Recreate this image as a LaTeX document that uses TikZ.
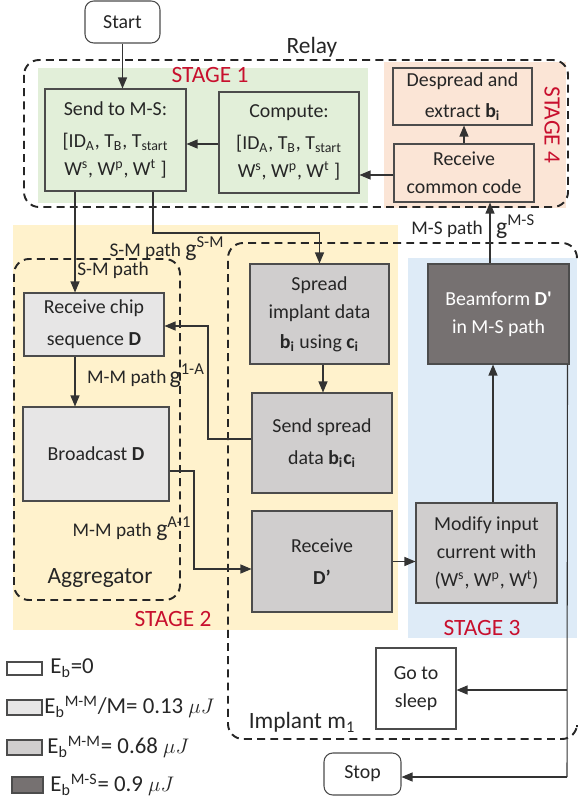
\documentclass[tikz,border=0pt]{standalone}
\usepackage{fontspec}
\setmainfont{Carlito}
\usetikzlibrary{arrows.meta}

\definecolor{stgreen}{HTML}{E2EFD9}
\definecolor{stpeach}{HTML}{FBE5D6}
\definecolor{styellow}{HTML}{FFF2CC}
\definecolor{stblue}{HTML}{DEEBF7}
\definecolor{lightgr}{HTML}{E7E6E6}
\definecolor{midgr}{HTML}{D0CECE}
\definecolor{darkgr}{HTML}{767171}
\definecolor{stagered}{HTML}{C8102E}

\newcommand{\bodyfont}{\fontsize{11.3}{16}\selectfont}
\newcommand{\stagefont}{\fontsize{13.3}{16}\selectfont}
\newcommand{\pathfont}{\fontsize{11}{13}\selectfont}
\newcommand{\gpath}[1]{{\fontsize{13.5}{16}\selectfont g\textsuperscript{#1}}}

\tikzset{
  blk/.style={draw=black!70, line width=0.6pt, align=center, inner sep=0pt, text=black!85},
  term/.style={blk, rounded corners=5pt, fill=white},
  grp/.style={draw=black!85, line width=1.1pt, dash pattern=on 4.5pt off 3pt, rounded corners=0.3cm},
  grplabel/.style={font=\stagefont, text=black!85},
  stage/.style={font=\stagefont, text=stagered},
  conn/.style={draw=black!80, line width=0.6pt},
  arr/.style={conn, -{Triangle[length=2.2mm, width=1.8mm]}},
  pathlbl/.style={font=\pathfont, text=black!85, inner sep=1pt},
  lgbox/.style={draw=black!70, line width=0.6pt, inner sep=0pt},
  lgtext/.style={font=\fontsize{13}{15}\selectfont, text=black!85, anchor=west, inner sep=0pt}
}

\begin{document}
\begin{tikzpicture}[x=0.02cm, y=-0.02cm, font=\bodyfont]
\useasboundingbox (0,0) rectangle (581,804);

% stage areas
\fill[stgreen] (38,68) rectangle (368,203);
\fill[stpeach] (384,62) rectangle (566,208);
\fill[styellow] (13,225) rectangle (398,630);
\fill[stblue] (408,258) rectangle (577,638);

% dashed groups
\draw[grp] (24,60) rectangle (568,207);
\draw[grp] (14,259) rectangle (180,600);
\draw[grp] (577,258) -- (577,243) -- (228,243) -- (228,739) -- (577,739) -- (577,727);

\node[grplabel] (relay) at (312,47) {Relay};
\node[grplabel] (aggr) at (100,578) {Aggregator};
\node[grplabel] (implant) at (302,722) {Implant m\textsubscript{1}};

\node[stage] (stA) at (210,75) {STAGE 1};
\node[stage] (stB) at (173,619) {STAGE 2};
\node[stage] (stC) at (482,628) {STAGE 3};
\node[stage, rotate=-90] (stD) at (552,125) {STAGE 4};

% relay
\node[term, minimum width=1.5cm, minimum height=0.84cm] (start) at (122.5,22) {Start};
\node[blk, fill=stgreen, minimum width=2.82cm, minimum height=2.04cm] (send) at (115.5,140)
  {Send to M-S:\\[2pt] [ID\textsubscript{A}, T\textsubscript{B}, T\textsubscript{start}\\ W\textsuperscript{s}, W\textsuperscript{p}, W\textsuperscript{t} ]};
\node[blk, fill=stgreen, minimum width=2.8cm, minimum height=2.02cm] (comp) at (289,142.5)
  {Compute:\\[2pt] [ID\textsubscript{A}, T\textsubscript{B}, T\textsubscript{start}\\ W\textsuperscript{s}, W\textsuperscript{p}, W\textsuperscript{t} ]};
\node[blk, fill=stpeach, minimum width=2.78cm, minimum height=1.14cm] (desp) at (462.5,96.5)
  {Despread and\\[2pt] extract \textbf{b\textsubscript{i}}};
\node[blk, fill=stpeach, minimum width=2.8cm, minimum height=1.16cm] (rcc) at (464,173)
  {Receive\\ common code};

% aggregator
\node[blk, fill=lightgr, minimum width=2.8cm, minimum height=1.26cm] (chip) at (94,324.5)
  {Receive chip\\[2pt] sequence \textbf{D}};
\node[blk, fill=lightgr, minimum width=2.92cm, minimum height=1.88cm] (bcast) at (96,454)
  {Broadcast \textbf{D}};

% implant
\node[blk, fill=midgr, minimum width=2.78cm, minimum height=2cm] (spread) at (319.5,314)
  {Spread\\ implant data\\[1pt] \textbf{b\textsubscript{i}} using \textbf{c\textsubscript{i}}};
\node[blk, fill=midgr, minimum width=2.8cm, minimum height=2cm] (sspread) at (322,443)
  {Send spread\\[2pt] data \textbf{b\textsubscript{i}c\textsubscript{i}}};
\node[blk, fill=midgr, minimum width=2.8cm, minimum height=2.02cm] (rxd) at (322,561.5)
  {Receive\\[2pt] \textbf{D’}};
\node[blk, fill=midgr, minimum width=2.82cm, minimum height=2cm] (mod) at (486.5,553)
  {Modify input\\ current with\\ (W\textsuperscript{s}, W\textsuperscript{p}, W\textsuperscript{t})};
\node[blk, fill=darkgr, text=white, minimum width=2.82cm, minimum height=2cm] (beam) at (498.5,314)
  {Beamform \textbf{D\textquotesingle}\\ in M-S path};
\node[blk, fill=white, minimum width=1.6cm, minimum height=1.62cm] (sleep) at (416,688.5)
  {Go to\\ sleep};
\node[term, minimum width=1.54cm, minimum height=0.84cm] (stop) at (362.5,774) {Stop};

% connectors
\coordinate (smB) at (200,233);
\coordinate (mmA) at (208,326);
\coordinate (mmB) at (194,569);
\coordinate (msA) at (567,690);
\coordinate (msB) at (567,777);

\draw[arr] (start.south) -- (start.south |- send.north);
\draw[arr] ([yshift=-0.03cm]comp.west) -- ([yshift=-0.03cm]comp.west -| send.east);
\draw[arr] ([yshift=-0.04cm]rcc.west) -- ([yshift=-0.04cm]rcc.west -| comp.east);
\draw[arr] (rcc.north) -- (rcc.north |- desp.south);

\draw[arr] ([xshift=-0.81cm]send.south) -- ([xshift=-0.81cm]send.south |- chip.north)
  node[pathlbl, anchor=west, pos=0.78] {S-M path};
\draw[arr] ([xshift=0.75cm]send.south) |- (smB) -| (spread.north);
\node[pathlbl] (smlbl) at (167,249) {S-M path \gpath{S-M}};

\draw[arr] ([xshift=-0.38cm]chip.south) -- ([xshift=-0.38cm]chip.south |- bcast.north);
\node[pathlbl] (mmlblA) at (146,376) {M-M path\,\gpath{1-A}};
\draw[arr] ([yshift=0.08cm]sspread.west) -| (mmA) -- (mmA -| chip.east);

\draw[arr] ([yshift=-0.34cm]bcast.east) -| (mmB) -- (mmB -| rxd.west);
\node[pathlbl] (mmlblB) at (132,529) {M-M path \gpath{A-1}};

\draw[arr] ([xshift=0.07cm]spread.south) -- ([xshift=0.07cm]spread.south |- sspread.north);
\draw[arr] (rxd.east) -- (rxd.east -| mod.west);
\draw[arr] ([xshift=0.13cm]mod.north) -- ([xshift=0.13cm]mod.north |- beam.south);
\draw[arr] ([xshift=-0.17cm]beam.north) -- ([xshift=-0.17cm]beam.north |- rcc.south);
\node[pathlbl, anchor=east] (mslblA) at (485,229) {M-S path};
\node[pathlbl, anchor=west] (mslblB) at (494,227) {\gpath{M-S}};

\draw[conn] ([xshift=-0.04cm]beam.south east) -- (msB);
\draw[arr] (msA) -- (msA -| sleep.east);
\draw[arr] (msB) -- (msB -| stop.east);

% legend
\node[lgbox, fill=white, minimum width=0.7cm, minimum height=0.26cm] (lgA) at (24.5,668.5) {};
\node[lgbox, fill=lightgr, minimum width=0.7cm, minimum height=0.3cm] (lgB) at (24.5,707.5) {};
\node[lgbox, fill=midgr, minimum width=0.7cm, minimum height=0.3cm] (lgC) at (24.5,747.5) {};
\node[lgbox, fill=darkgr, minimum width=0.62cm, minimum height=0.32cm] (lgD) at (27.5,785) {};
\node[lgtext] (lgtA) at (50,668) {E\textsubscript{b}=0};
\node[lgtext] (lgtB) at (44,707) {E\textsubscript{b}\textsuperscript{M-M}/M= 0.13 $\mu J$};
\node[lgtext] (lgtC) at (47,747) {E\textsubscript{b}\textsuperscript{M-M}= 0.68 $\mu J$};
\node[lgtext] (lgtD) at (50,785) {E\textsubscript{b}\textsuperscript{M-S}= 0.9 $\mu J$};
\end{tikzpicture}
\end{document}
